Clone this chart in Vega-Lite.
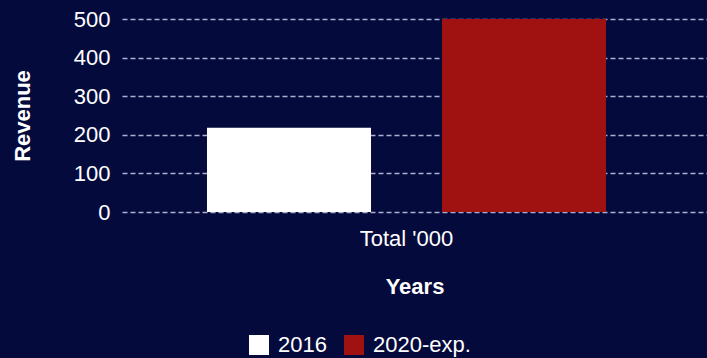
{
  "$schema": "https://vega.github.io/schema/vega-lite/v6.json",
  "autosize": {"type": "none"},
  "width": 585,
  "height": 193,
  "padding": {"left": 122, "top": 19, "right": 0, "bottom": 146},
  "background": "#050a3c",
  "config": {
    "view": {"stroke": null},
    "font": "Liberation Sans"
  },
  "data": {
    "values": [
      {"category": "Total '000", "series": "2016", "revenue": 218},
      {"category": "Total '000", "series": "2020-exp.", "revenue": 500}
    ]
  },
  "mark": {"type": "bar"},
  "encoding": {
    "x": {
      "field": "category",
      "type": "nominal",
      "scale": {"paddingInner": 0, "paddingOuter": 0.233, "align": 0.457},
      "axis": {
        "title": "Years",
        "titleColor": "white",
        "titleFontSize": 22,
        "titleFontWeight": "bold",
        "titlePadding": 27,
        "labelColor": "white",
        "labelFontSize": 22,
        "labelPadding": 16,
        "labelAngle": 0,
        "ticks": false,
        "domain": false,
        "grid": false
      }
    },
    "xOffset": {
      "field": "series",
      "type": "nominal",
      "scale": {"paddingInner": 0.302, "paddingOuter": 0}
    },
    "y": {
      "field": "revenue",
      "type": "quantitative",
      "scale": {"domain": [0, 500]},
      "axis": {
        "title": "Revenue",
        "titleColor": "white",
        "titleFontSize": 22,
        "titleFontWeight": "bold",
        "titlePadding": 39,
        "labelColor": "white",
        "labelFontSize": 22,
        "labelPadding": 12,
        "values": [0, 100, 200, 300, 400, 500],
        "ticks": false,
        "domain": false,
        "grid": true,
        "gridColor": "#aab0d4",
        "gridDash": [5, 3],
        "gridWidth": 1.5
      }
    },
    "color": {
      "field": "series",
      "type": "nominal",
      "scale": {"domain": ["2016", "2020-exp."], "range": ["#ffffff", "#a01212"]},
      "legend": {
        "title": null,
        "orient": "none",
        "direction": "horizontal",
        "legendX": 126,
        "legendY": 315,
        "symbolType": "square",
        "symbolSize": 400,
        "symbolStrokeWidth": 0,
        "labelColor": "white",
        "labelFontSize": 22,
        "columnPadding": 16,
        "labelOffset": 8
      }
    }
  }
}
